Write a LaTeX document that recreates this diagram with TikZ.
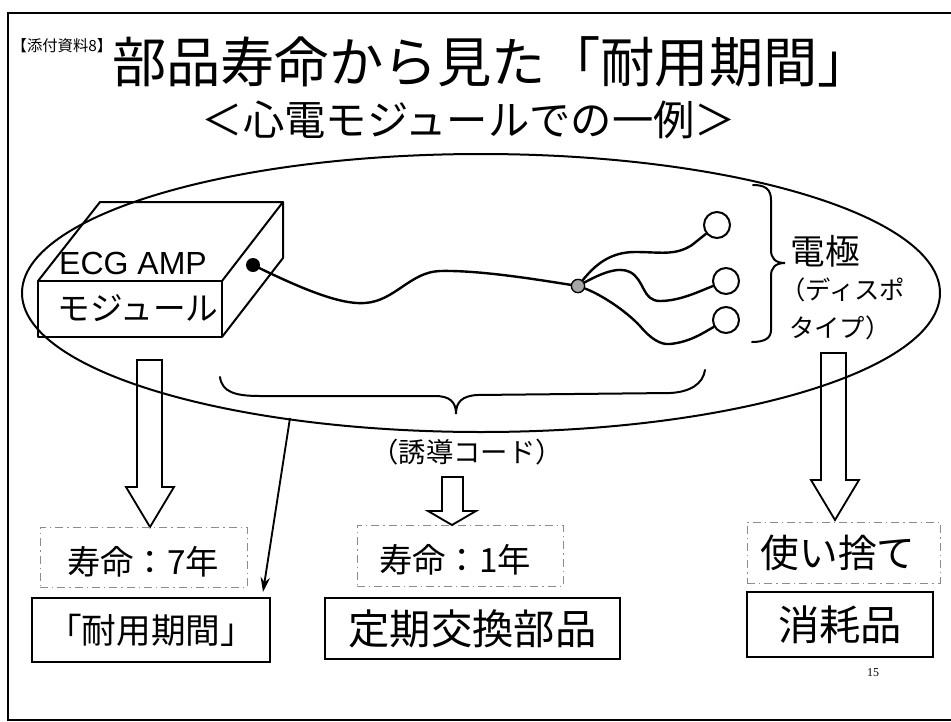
\documentclass[tikz,border=0pt]{standalone}
\usepackage{fontspec}
\newfontfamily\jpfont{Noto Sans CJK JP}
\newfontfamily\latfont{Liberation Sans}
\newfontfamily\numfont{Liberation Serif}
\usetikzlibrary{arrows.meta}
\newcommand\setfs[1]{\fontsize{#1}{#1}\selectfont}
\begin{document}
\begin{tikzpicture}[x=0.75pt,y=-0.75pt,
  txt/.style={inner sep=0pt, font=\jpfont},
  solidbox/.style={draw, line width=1.4pt, inner sep=0pt},
  hintbox/.style={draw=black!45, line width=0.5pt, dash pattern=on 6pt off 3pt on 1pt off 3pt, inner sep=0pt},
  hollow/.style={draw, line width=1.4pt, line join=miter},
  wire/.style={line width=1.8pt, line cap=round},
  outline/.style={line width=1.5pt},
  pad/.style={circle, draw, line width=1.5pt, minimum size=19.5pt, inner sep=0pt}]
\useasboundingbox (0,0) rectangle (951,722);

% page frame
\draw[line width=1.2pt] (951,13) -- (8,13) -- (8,720) -- (951,720);

% headings
\node[txt, font=\jpfont\setfs{11.5}] (tag) at (62,46) {【添付資料8】};
\node[txt, font=\jpfont\setfs{40.7}] (title) at (492,62) {部品寿命から見た「耐用期間」};
\node[txt, font=\jpfont\setfs{31}] (subtitle) at (469,120) {＜心電モジュールでの一例＞};

% grouping ellipse
\coordinate (ctr) at (481,293);
\draw[outline] (ctr) ellipse [x radius=459, y radius=139];

% amplifier module drawn as a box
\draw[outline, line join=round] (38,281) rectangle (222,337);
\draw[outline, line join=round] (38,281) -- (100,202) -- (283,202) -- (222,281);
\draw[outline, line join=round] (283,202) -- (283,258) -- (222,337);
\node[txt, font=\latfont\setfs{24}] (ecg) at (133,263) {ECG AMP};
\node[txt, font=\jpfont\setfs{24.5}] (mod) at (138,308) {モジュール};

% lead cable
\node[circle, fill=black, minimum size=10.5pt, inner sep=0pt] (plug) at (253,265) {};
\node[circle, draw, fill=black!35, line width=1pt, minimum size=10pt, inner sep=0pt] (jn) at (578,286) {};
\draw[wire] (plug.center) .. controls (300,288) and (340,305) .. (365,303)
  .. controls (395,301) and (410,272) .. (440,271)
  .. controls (480,270) and (540,280) .. (jn);

% disposable electrodes
\node[pad] (e1) at (717,225) {};
\node[pad] (e2) at (726,281) {};
\node[pad] (e3) at (726,320) {};
\draw[wire] (jn) .. controls (595,265) and (610,252) .. (635,252)
  .. controls (660,252) and (675,256) .. (692,245) -- (e1);
\draw[wire] (jn) .. controls (600,274) and (618,266) .. (630,272)
  .. controls (645,280) and (642,301) .. (660,301)
  .. controls (680,301) and (700,291) .. (e2);
\draw[wire] (jn) .. controls (600,294) and (625,310) .. (640,326)
  .. controls (650,338) and (660,345) .. (670,344)
  .. controls (690,342) and (703,333) .. (e3);

% brace over the electrodes
\draw[outline, line cap=round] (753,185) .. controls (765,185) and (771,189) .. (771,200)
  -- (771,250) .. controls (771,258) and (775,263) .. (785,263)
  .. controls (775,263) and (771,268) .. (771,276)
  -- (771,330) .. controls (771,338) and (765,342) .. (752,342);
\node[txt, font=\jpfont\setfs{26}] (elec) at (825,251) {電極};
\node[txt, font=\jpfont\setfs{19}, anchor=west] (disp1) at (780,290) {（ディスポ};
\node[txt, font=\jpfont\setfs{19}, anchor=west] (disp2) at (789,328) {タイプ）};

% brace under the cable
\draw[outline, line cap=round] (220,377) .. controls (222,392) and (235,396) .. (260,396)
  -- (435,396) .. controls (450,396) and (456,402) .. (456,414)
  .. controls (456,402) and (462,396) .. (477,395)
  -- (670,393) .. controls (690,392) and (703,384) .. (705,370);
\node[txt, font=\jpfont\setfs{20.5}] (lead) at (467,452) {（誘導コード）};

% hollow arrows
\draw[hollow] (137,360) -- (137,487) -- (126,487) -- (150,527) -- (174,487) -- (162,487) -- (162,360) -- cycle;
\draw[hollow] (442,477) -- (442,511) -- (428,511) -- (452,525) -- (476,511) -- (463,511) -- (463,477) -- cycle;
\draw[hollow] (821,353) -- (821,480) -- (811,480) -- (835,520) -- (859,480) -- (846,480) -- (846,353) -- cycle;

% life-time labels
\node[hintbox, minimum width=155.25pt, minimum height=45pt] (life7) at (143.5,557) {};
\node[txt, font=\jpfont\setfs{25}] (life7t) at (143,562) {寿命：7年};
\node[hintbox, minimum width=154.5pt, minimum height=45.75pt] (life1) at (460,555.5) {};
\node[txt, font=\jpfont\setfs{25}] (life1t) at (455,560) {寿命：1年};
\node[hintbox, minimum width=144.75pt, minimum height=45.75pt] (once) at (843.5,552.5) {};
\node[txt, font=\jpfont\setfs{29}] (oncet) at (838,553) {使い捨て};

% category boxes
\node[solidbox, font=\jpfont\setfs{26}, minimum width=178.5pt, minimum height=48pt] (durable) at (151,630) {「耐用期間」};
\node[solidbox, font=\jpfont\setfs{31}, minimum width=221.25pt, minimum height=45.75pt] (periodic) at (472.5,628.5) {定期交換部品};
\node[solidbox, font=\jpfont\setfs{31}, minimum width=139.5pt, minimum height=48.75pt] (consum) at (840,624.5) {消耗品};

% pointer to the service-life box
\coordinate (ptail) at (290,418);
\coordinate (phead) at (263,592);
\draw[line width=1.4pt, -{Stealth[length=11pt, width=7pt]}] (ptail) -- (phead);

% page number
\node[inner sep=0pt, font=\numfont\setfs{9}] (pg) at (873,673) {15};
\end{tikzpicture}
\end{document}
